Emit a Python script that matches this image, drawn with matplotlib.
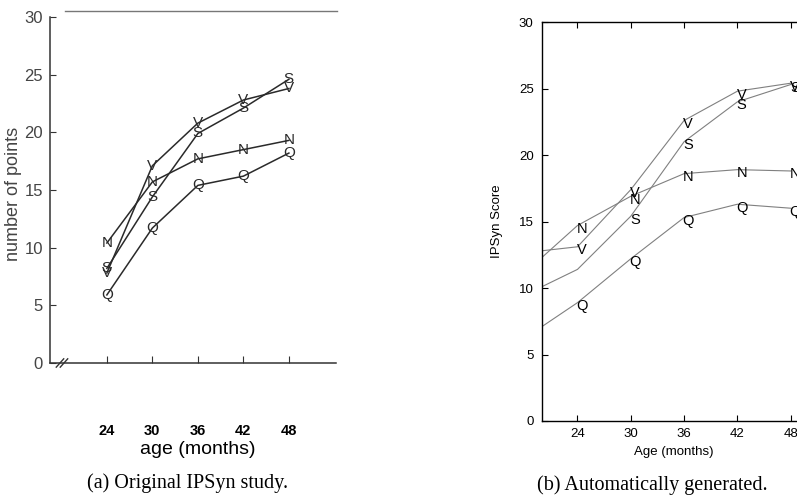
import matplotlib
matplotlib.use('Agg')
import matplotlib.pyplot as plt
from matplotlib.lines import Line2D

# (a) original study
ages = [24, 30, 36, 42, 48]
orig_N = [10.4, 15.7, 17.7, 18.5, 19.3]
orig_V = [7.8, 17.1, 20.8, 22.8, 23.8]
orig_S = [8.2, 14.4, 19.9, 22.1, 24.6]
orig_Q = [5.9, 11.7, 15.4, 16.2, 18.2]

# (b) automatically generated curves
auto_ages = [20, 24, 30, 36, 42, 48]
auto_N = [12.3, 14.7, 16.9, 18.6, 18.9, 18.8]
auto_V = [12.8, 13.1, 17.4, 22.6, 24.8, 25.4]
auto_S = [10.1, 11.4, 15.4, 21.0, 24.0, 25.3]
auto_Q = [7.1, 8.9, 12.2, 15.3, 16.3, 16.0]

series_names = ['N', 'V', 'S', 'Q']
yticks = [0, 5, 10, 15, 20, 25, 30]

sans = ['Liberation Sans', 'DejaVu Sans']
serif = ['Liberation Serif', 'DejaVu Serif']

fig = plt.figure(figsize=(7.97, 4.95), dpi=100)

# ---------------- left panel ----------------
ax1 = fig.add_axes([0.0627, 0.2667, 0.3588, 0.699])
ax1.set_xlim(16.5, 54.2)
ax1.set_ylim(0, 30)
for name, vals in zip(series_names, [orig_N, orig_V, orig_S, orig_Q]):
    ax1.plot(ages, vals, color='#2a2a2a', linewidth=1.1)
    for x, y in zip(ages, vals):
        ax1.text(x, y, name, ha='center', va='center', fontsize=11,
                 color='#2a2a2a', family=sans)
ax1.spines['top'].set_visible(False)
ax1.spines['right'].set_visible(False)
for sp in ['left', 'bottom']:
    ax1.spines[sp].set_color('#333333')
    ax1.spines[sp].set_linewidth(1.1)
ax1.set_yticks(yticks)
ax1.set_yticklabels([str(t) for t in yticks], family=sans, fontsize=12, color='#444444')
ax1.set_xticks(ages)
ax1.set_xticklabels([str(a) for a in ages], family=sans, fontsize=10.5,
                    fontweight='bold', color='black')
ax1.tick_params(axis='y', direction='in', length=4, pad=5, color='#333333')
ax1.tick_params(axis='x', direction='in', length=5, pad=44, color='#333333')
ax1.set_ylabel('number of points', family=sans, fontsize=13, color='#444444')
ax1.yaxis.set_label_coords(-0.098, 0.49)
ax1.text(0.517, -0.225, 'age (months)', transform=ax1.transAxes, ha='center',
         va='top', fontsize=14, family=sans)
# axis break marks
for dx in [0.0, 0.014]:
    ax1.plot([0.022 + dx, 0.048 + dx], [-0.012, 0.012], transform=ax1.transAxes,
             color='#333333', linewidth=1.0, clip_on=False)
# stray rule at top of the scan
fig.add_artist(Line2D([65 / 797, 337 / 797], [1 - 10.5 / 495, 1 - 10.5 / 495],
                      color='#777777', linewidth=1.0))

# ---------------- right panel ----------------
ax2 = fig.add_axes([0.680, 0.1495, 0.3344, 0.806])
ax2.set_xlim(20, 50)
ax2.set_ylim(0, 30)
for name, vals in zip(series_names, [auto_N, auto_V, auto_S, auto_Q]):
    ax2.plot(auto_ages, vals, color='#808080', linewidth=0.8)
    for x, y in zip(auto_ages[1:], vals[1:]):
        if name == 'S' and x == 24:
            continue
        ax2.annotate(name, (x, y), xytext=(3, -2.5), textcoords='offset points',
                     ha='center', va='center', fontsize=10.5, family=sans)
for sp in ax2.spines.values():
    sp.set_linewidth(1.0)
ax2.set_xticks(ages)
ax2.set_xticklabels([str(a) for a in ages], family=sans, fontsize=9.5)
ax2.set_yticks(yticks)
ax2.set_yticklabels([str(t) for t in yticks], family=sans, fontsize=9.5)
ax2.tick_params(direction='in', length=4, top=True, right=True)
ax2.tick_params(axis='y', pad=6)
ax2.tick_params(axis='x', pad=5)
ax2.set_xlabel('Age (months)', family=sans, fontsize=9.5)
ax2.xaxis.set_label_coords(0.495, -0.063)
ax2.xaxis.label.set_va('top')
ax2.set_ylabel('IPSyn Score', family=sans, fontsize=9.5)
ax2.yaxis.set_label_coords(-0.146, 0.5)

# captions
fig.text(188 / 797, 1 - 483 / 495, '(a) Original IPSyn study.', ha='center',
         va='center', fontsize=14.5, family=serif)
fig.text(652 / 797, 1 - 485 / 495, '(b) Automatically generated.', ha='center',
         va='center', fontsize=14.5, family=serif)

fig.savefig('out.png', dpi=100)
